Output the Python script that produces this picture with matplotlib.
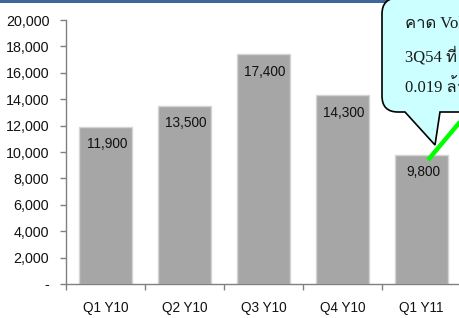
import matplotlib
matplotlib.use("Agg")
import matplotlib.pyplot as plt
from matplotlib.path import Path
from matplotlib.patches import PathPatch, Rectangle
from matplotlib import font_manager
from matplotlib.ft2font import FT2Font
from matplotlib.ticker import FixedLocator, FuncFormatter

categories = ["Q1 Y10", "Q2 Y10", "Q3 Y10", "Q4 Y10", "Q1 Y11"]
values = [11900, 13500, 17400, 14300, 9800]
yticks = [0, 2000, 4000, 6000, 8000, 10000, 12000, 14000, 16000, 18000, 20000]
callout_lines = ["คาด Volume", "3Q54 ที่", "0.019 ล้าน"]

# find a font with Thai glyphs
thai_fonts = []
for f in font_manager.fontManager.ttflist:
    try:
        cm = FT2Font(f.fname).get_charmap()
        if 0x0E04 in cm and f.name not in thai_fonts:
            thai_fonts.append(f.name)
    except Exception:
        pass
serif_family = ["Liberation Serif"] + thai_fonts + ["DejaVu Sans"]

plt.rcParams['font.family'] = ['Liberation Sans', 'DejaVu Sans']

W, H = 459, 318
fig = plt.figure(figsize=(W / 100, H / 100), dpi=100)
fig.patch.set_facecolor("white")

ax = fig.add_axes([66 / W, 34 / H, 395 / W, 264 / H])
x = list(range(len(categories)))
bars = ax.bar(x, values, width=0.66, color="#A6A6A6", edgecolor="#D4D4D4", linewidth=1.0, zorder=2)
ax.set_xlim(-0.5, len(categories) - 0.5)
ax.set_ylim(0, 20000)

for xi, v in zip(x, values):
    ax.annotate(f"{v:,}", (xi, v), xytext=(1, -7.5), textcoords="offset points",
                ha="center", va="top", fontsize=9.8, color="#111111")

ax.set_yticks(yticks)
ax.yaxis.set_major_formatter(FuncFormatter(lambda v, p: "-" if v == 0 else f"{int(v):,}"))
ax.set_xticks(x)
ax.set_xticklabels(categories)
ax.xaxis.set_minor_locator(FixedLocator([i - 0.5 for i in range(len(categories) + 1)]))
ax.tick_params(axis="x", which="major", length=0, pad=12, labelsize=9.8, colors="#111111")
ax.tick_params(axis="x", which="minor", length=4, color="#808080", width=1)
ax.tick_params(axis="y", length=4, color="#808080", width=1, labelsize=10.3, colors="#111111", pad=8)
for s in ["top", "right"]:
    ax.spines[s].set_visible(False)
for s in ["left", "bottom"]:
    ax.spines[s].set_color("#808080")
    ax.spines[s].set_linewidth(1)

# overlay in pixel coordinates
ov = fig.add_axes([0, 0, 1, 1])
ov.set_xlim(0, W)
ov.set_ylim(H, 0)
ov.axis("off")
ov.patch.set_alpha(0)

ov.add_patch(Rectangle((0, -1), W, 4, color="#3F659C", lw=0))

verts = [(490, 112), (440, 112), (435, 145), (405, 112), (398, 112),
         (382, 112), (382, 96), (382, 14), (382, -2), (398, -2), (490, -2), (490, 112)]
codes = [Path.MOVETO, Path.LINETO, Path.LINETO, Path.LINETO, Path.LINETO,
         Path.CURVE3, Path.CURVE3, Path.LINETO, Path.CURVE3, Path.CURVE3, Path.LINETO, Path.CLOSEPOLY]
ov.add_patch(PathPatch(Path(verts, codes), facecolor="#CCFFFF", edgecolor="black", lw=1.2))

for i, t in enumerate(callout_lines):
    ov.text(405, 24 + 32 * i, t, fontsize=12, family=serif_family, va="center", ha="left", color="#1a1a1a")

ov.plot([428, 475], [160, 104], color="#00FF00", lw=3.2, solid_capstyle="butt")

fig.savefig("out.png", dpi=100)
